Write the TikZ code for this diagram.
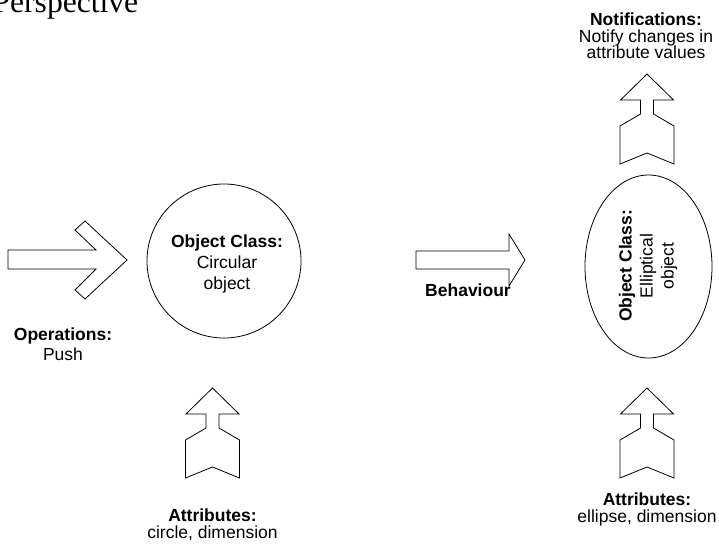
\documentclass[tikz,border=0pt]{standalone}
\usepackage{fontspec}
\setmainfont{Liberation Sans}
\newfontfamily\titlefont{Liberation Serif}
\usetikzlibrary{shapes.geometric}
\begin{document}
\begin{tikzpicture}[x=1pt,y=-1pt,
  shapeline/.style={draw=black,line width=0.8pt,line join=miter,fill=white},
  lbl/.style={inner sep=0pt,align=center,font=\fontsize{17.5}{#1}\selectfont},
  lbl/.default=21,
  uparrow/.pic={
    \path[shapeline] (0,0) -- (26.5,26) -- (6.5,26) -- (6.5,40) -- (27,52) -- (27,90)
      -- (0,79) -- (-27,90) -- (-27,52) -- (-6.5,40) -- (-6.5,26) -- (-26.5,26) -- cycle;
  }]
\useasboundingbox (0,0) rectangle (719,543);
\clip (0,0) rectangle (719,543);

% title
\node[inner sep=0pt,anchor=base west,font=\titlefont\fontsize{31.6}{36}\selectfont] (title) at (-7.6,13) {Perspective};

% left operation arrow
\path[shapeline] (8,250) -- (96,250) -- (75,230) -- (85,221) -- (127,260) -- (85,299)
  -- (75,290) -- (96,269) -- (8,269) -- cycle;

% circular object
\node[draw,circle,line width=0.8pt,minimum size=154pt,inner sep=0pt] (circ) at (224,261) {};
\node[lbl] (circtxt) at (227,264) {\textbf{Object Class:}\\Circular\\object};

% operations label
\node[lbl=20] (ops) at (63,344) {\textbf{Operations:}\\Push};

% behaviour arrow
\path[shapeline] (416,251) -- (509,251) -- (509,234) -- (525,260) -- (509,286) -- (509,269)
  -- (416,269) -- cycle;
\node[lbl] (beh) at (468,290) {\textbf{Behaviour}};

% elliptical object
\node[draw,ellipse,line width=0.8pt,minimum width=127pt,minimum height=183pt,inner sep=0pt] (ell) at (648.5,266.5) {};
\node[lbl,rotate=90] (elltxt) at (648,266) {\textbf{Object Class:}\\Elliptical\\object};

% up arrows
\pic at (647,74) {uparrow};
\pic at (212.5,388) {uparrow};
\pic at (647,388) {uparrow};

% labels
\node[lbl=16.7] (notif) at (646,36) {\textbf{Notifications:}\\Notify changes in\\attribute values};
\node[lbl=17] (attl) at (212.5,525) {\textbf{Attributes:}\\circle, dimension};
\node[lbl=17] (attr) at (647,509) {\textbf{Attributes:}\\ellipse, dimension};
\end{tikzpicture}
\end{document}
